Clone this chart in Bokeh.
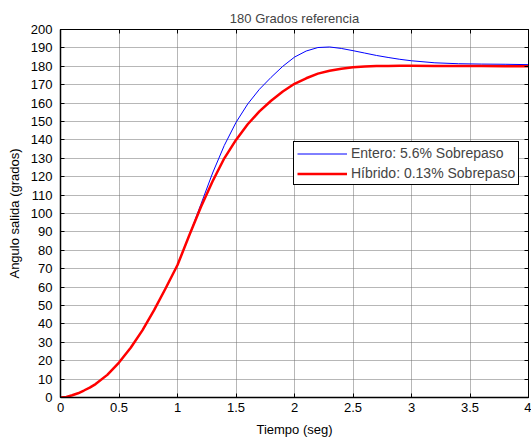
from bokeh.plotting import figure
from bokeh.models import LinearAxis, FixedTicker, Range1d, Legend, LegendItem, CustomLabelingPolicy, Title
from bokeh.embed import file_html
from bokeh.resources import INLINE

# ---- data ----
tiempo = [0, 0.05, 0.1, 0.15, 0.2, 0.25, 0.3, 0.4, 0.5, 0.6, 0.7, 0.8, 0.9, 1.0,
          1.1, 1.2, 1.3, 1.4, 1.5, 1.6, 1.7, 1.8, 1.9, 2.0, 2.1, 2.2, 2.3, 2.4,
          2.5, 2.6, 2.7, 2.8, 2.9, 3.0, 3.2, 3.4, 3.6, 3.8, 4.0]
entero = [0, 0.3, 1.2, 2.3, 3.8, 5.4, 7.3, 12.3, 19, 27, 36.5, 47.5, 59.5, 72,
          88, 105, 122, 137, 149.5, 159.5, 167.5, 174, 180, 185, 188.3, 190.2,
          190.5, 189.7, 188.5, 187.2, 185.9, 184.8, 183.8, 183, 181.9, 181.4,
          181.2, 181.1, 180.9]
hibrido = [0, 0.3, 1.2, 2.3, 3.8, 5.4, 7.3, 12.3, 19, 27, 36.5, 47.5, 59.5, 72,
           88, 103.5, 117.5, 130, 140, 148.5, 155.5, 161.3, 166.3, 170.5, 173.5,
           176, 177.6, 178.7, 179.5, 179.9, 180.1, 180.2, 180.25, 180.25, 180.2,
           180.15, 180.1, 180, 180]
x_ticks = [0, 0.5, 1, 1.5, 2, 2.5, 3, 3.5, 4]
x_tick_labels = ["0", "0.5", "1", "1.5", "2", "2.5", "3", "3.5", "4"]
y_ticks = list(range(0, 201, 10))
labels = ["Entero: 5.6% Sobrepaso", "Híbrido: 0.13% Sobrepaso"]
titulo = "180 Grados referencia"

FONT = "Liberation Sans"

p = figure(width=531, height=441, output_backend="svg", toolbar_location=None,
           x_range=Range1d(0, 4), y_range=Range1d(0, 200),
           min_border_left=60, min_border_right=3, min_border_top=29,
           min_border_bottom=44, title=None)
p.outline_line_color = "black"
p.outline_line_width = 1
p.background_fill_color = "white"
p.border_fill_color = "white"

for ax in (p.xaxis[0], p.yaxis[0]):
    ax.major_tick_in = 4
    ax.major_tick_out = 0
    ax.minor_tick_line_color = None
    ax.axis_line_color = "black"
    ax.axis_line_width = 1.5
    ax.major_tick_line_color = "black"
    ax.major_label_text_font = FONT
    ax.major_label_text_font_size = "13px"
    ax.major_label_text_color = "black"
    ax.axis_label_text_font = FONT
    ax.axis_label_text_font_size = "13px"
    ax.axis_label_text_font_style = "normal"
    ax.axis_label_text_color = "black"

p.xaxis.ticker = FixedTicker(ticks=x_ticks)
p.xaxis.major_label_overrides = dict(zip(x_ticks, x_tick_labels))
p.xaxis.axis_label = "Tiempo (seg)"
p.xaxis.major_label_standoff = 5
p.xaxis.axis_label_standoff = 7
p.yaxis.ticker = FixedTicker(ticks=y_ticks)
p.yaxis.axis_label = "Angulo salida (grados)"
p.yaxis.major_label_standoff = 8
p.yaxis.axis_label_standoff = 6

top = LinearAxis(ticker=FixedTicker(ticks=x_ticks), major_tick_in=4, major_tick_out=0,
                 minor_tick_line_color=None,
                 major_label_policy=CustomLabelingPolicy(code="return new Set()"),
                 major_label_text_font_size="0px",
                 major_label_standoff=0, axis_line_color="black")
right = LinearAxis(ticker=FixedTicker(ticks=y_ticks), major_tick_in=4, major_tick_out=0,
                   minor_tick_line_color=None,
                   major_label_policy=CustomLabelingPolicy(code="return new Set()"),
                   major_label_text_font_size="0px",
                   major_label_standoff=0, axis_line_color="black")
p.add_layout(top, "above")
p.add_layout(right, "right")

t = Title(text=titulo, align="center", text_font=FONT, text_font_size="13px",
          text_font_style="normal", standoff=8)
p.add_layout(t, "above")

p.xgrid.ticker = FixedTicker(ticks=x_ticks)
p.ygrid.ticker = FixedTicker(ticks=y_ticks)
p.grid.grid_line_color = "#6e6e6e"
p.grid.grid_line_dash = "1 1"
p.grid.grid_line_width = 1

r1 = p.line(tiempo, entero, line_color="#0000ff", line_width=1)
r2 = p.line(tiempo, hibrido, line_color="#ff0000", line_width=2.5)

legend = Legend(items=[LegendItem(label=labels[0], renderers=[r1]),
                       LegendItem(label=labels[1], renderers=[r2])],
                location=(233, 212))
legend.border_line_color = "black"
legend.border_line_width = 1
legend.border_line_alpha = 1
legend.background_fill_color = "white"
legend.background_fill_alpha = 1
legend.label_text_font = FONT
legend.label_text_font_size = "14px"
legend.glyph_width = 50
legend.glyph_height = 15
legend.label_height = 15
legend.label_standoff = 4
legend.padding = 3
legend.spacing = 4
legend.margin = 0
p.add_layout(legend)

open("out.html", "w").write(file_html(p, INLINE))
